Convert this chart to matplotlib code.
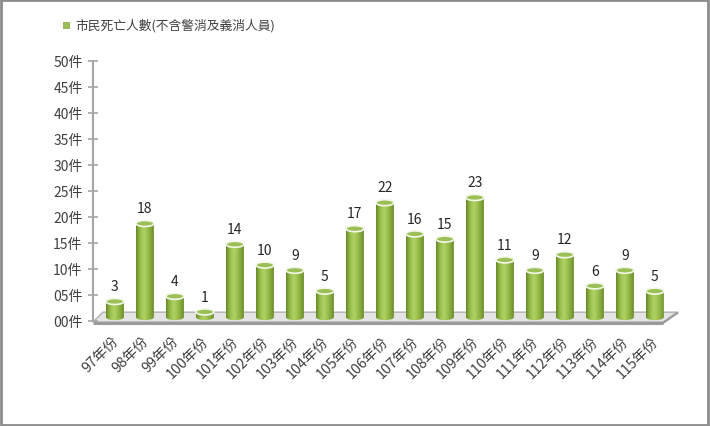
import numpy as np
import matplotlib
matplotlib.use("Agg")
import matplotlib.pyplot as plt
import matplotlib.transforms as mtransforms
from matplotlib.patches import Polygon, Ellipse, Rectangle

plt.rcParams['font.family'] = ['Noto Sans CJK TC', 'DejaVu Sans']

# data
years = ['97', '98', '99', '100', '101', '102', '103', '104', '105', '106',
         '107', '108', '109', '110', '111', '112', '113', '114', '115']
deaths = [3, 18, 4, 1, 14, 10, 9, 5, 17, 22, 16, 15, 23, 11, 9, 12, 6, 9, 5]
xlabels = [y + '年份' for y in years]
yticks = list(range(0, 51, 5))
ylabels = ['%02d件' % t for t in yticks]
legend_label = '市民死亡人數(不含警消及義消人員)'

W, H = 710, 427
fig = plt.figure(figsize=(W / 100, H / 100), dpi=100)
fig.patch.set_facecolor('white')
fig.patches.append(Rectangle((0.001, 0.002), 0.996, 0.995, transform=fig.transFigure,
                             fill=False, edgecolor='#8c8c8c', linewidth=2))

# axes placed by pixels: y axis at x=93, y=0 at 322, y=50 at 62
x0 = -0.73
x1 = 18.6
ax = fig.add_axes([93 / W, (H - 322) / H, (x1 - x0) * 30 / W, 260 / H])
ax.set_xlim(x0, x1)
ax.set_ylim(0, 50)
for s in ['top', 'right', 'bottom']:
    ax.spines[s].set_visible(False)
ax.spines['left'].set_color('#a6a6a6')
ax.spines['left'].set_linewidth(1.5)
ax.set_yticks(yticks)
ax.set_yticklabels(ylabels, fontsize=10, color='#404040')
ax.tick_params(axis='y', direction='inout', length=7, width=1.2, color='#a6a6a6', pad=4)
ax.set_xticks(range(len(years)))
ax.set_xticklabels(xlabels, rotation=45, ha='right', rotation_mode='anchor',
                   fontsize=10.3, color='#404040')
ax.tick_params(axis='x', length=0, pad=9)
shift = mtransforms.ScaledTranslation(-4 / 100, 0, fig.dpi_scale_trans)
for lab in ax.get_xticklabels():
    lab.set_transform(lab.get_transform() + shift)

# 3d floor
floor = Polygon([(-0.73, -0.2), (-0.4, 1.7), (18.75, 1.7), (18.28, -0.2)],
                closed=True, facecolor='#e4e4e4', edgecolor='#b0b0b0',
                linewidth=1, clip_on=False, zorder=1)
ax.add_patch(floor)
ax.plot([-0.73, 18.28], [-0.35, -0.35], color='#9a9a9a', linewidth=2.2,
        clip_on=False, zorder=1, solid_capstyle='butt')
ax.plot([18.28, 18.75], [-0.35, 1.55], color='#9a9a9a', linewidth=1.5,
        clip_on=False, zorder=1)

# cylinder colours
grad = np.array([0.0, 0.15, 0.3, 0.45, 0.6, 0.75, 0.9, 1.0])
cols = np.array([
    [0.40, 0.53, 0.16],
    [0.53, 0.68, 0.24],
    [0.64, 0.78, 0.34],
    [0.69, 0.82, 0.39],
    [0.63, 0.77, 0.33],
    [0.56, 0.70, 0.27],
    [0.48, 0.62, 0.20],
    [0.42, 0.55, 0.16],
])
n = 64
t = np.linspace(0, 1, n)
img = np.stack([np.interp(t, grad, cols[:, k]) for k in range(3)], axis=-1)[None, :, :]

bw = 0.6
base = 0.75
eh = 1.15
for i, v in enumerate(deaths):
    top = v + base
    ang = np.linspace(np.pi, 2 * np.pi, 30)
    arc = [(i + bw / 2 * np.cos(a), base + eh / 2 * np.sin(a)) for a in ang]
    pts = [(i - bw / 2, top)] + arc + [(i + bw / 2, top)]
    body = Polygon(pts, closed=True, facecolor='none', edgecolor='none', zorder=2)
    ax.add_patch(body)
    im = ax.imshow(img, extent=[i - bw / 2, i + bw / 2, base - eh, top],
                   aspect='auto', zorder=2, interpolation='bilinear')
    im.set_clip_path(body)
    cap = Ellipse((i, top), bw, eh, facecolor='#9cc057', edgecolor='#f4f8e8',
                  linewidth=1.2, zorder=3)
    ax.add_patch(cap)
    ax.text(i, top + 1.6, str(v), ha='center', va='bottom', fontsize=10,
            color='#262626', zorder=4)

ax.set_xlim(x0, x1)
ax.set_ylim(0, 50)

# legend
fig.patches.append(Rectangle((63 / W, 1 - 30 / H), 7 / W, 7 / H, transform=fig.transFigure,
                             facecolor='#9bbb59', edgecolor='none'))
fig.text(75 / W, 1 - 26 / H, legend_label, fontsize=9.2, color='#404040',
         va='center', ha='left')

fig.savefig('out.png', dpi=100)
